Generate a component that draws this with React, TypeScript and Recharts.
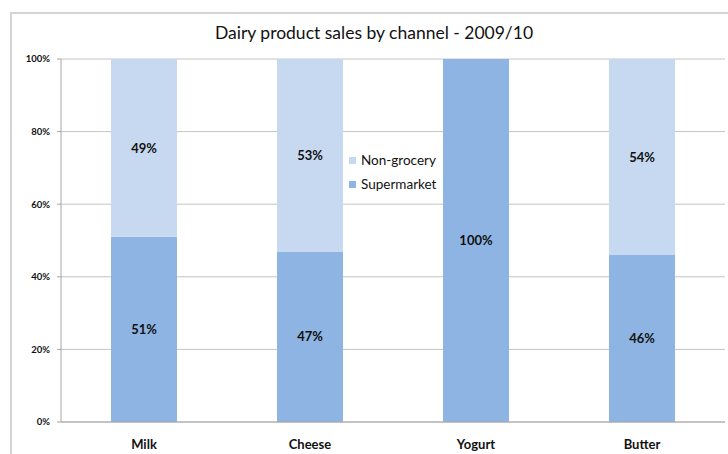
import React from "react";
import { BarChart, Bar, XAxis, YAxis, CartesianGrid, LabelList } from "recharts";

const categories = ["Milk", "Cheese", "Yogurt", "Butter"];
const supermarket = [51, 47, 100, 46];
const nonGrocery = [49, 53, 0, 54];
const yTicks = [0, 20, 40, 60, 80, 100];
const legendItems = ["Non-grocery", "Supermarket"];

const data = categories.map((c, i) => ({
  name: c,
  Supermarket: supermarket[i],
  "Non-grocery": nonGrocery[i],
}));

const FONT = "Lato, 'Liberation Sans', sans-serif";
const LIGHT = "#c6d9f1";
const DARK = "#8eb4e3";
const colorOf: Record<string, string> = { "Non-grocery": LIGHT, Supermarket: DARK };

const fmt = (v: any) => (Number(v) > 0 ? `${v}%` : "");
const labelStyle = { fontFamily: FONT, fontSize: 13, fontWeight: 700, fill: "#111" };

export default function App() {
  return (
    <div style={{ position: "absolute", left: 0, top: 0, width: 728, height: 454, overflow: "hidden", background: "#fff" }}>
      <div
        style={{
          position: "absolute",
          left: 10,
          top: 12,
          width: 740,
          height: 460,
          border: "2px solid #d4d4d4",
          boxSizing: "border-box",
        }}
      />
      <div
        style={{
          position: "absolute",
          left: 0,
          top: 22,
          width: 748,
          textAlign: "center",
          fontFamily: FONT,
          fontSize: 17.5,
          color: "#111",
        }}
      >
        Dairy product sales by channel - 2009/10
      </div>
      <div style={{ position: "absolute", left: 0, top: 0 }}>
        <BarChart
          width={728}
          height={454}
          data={data}
          margin={{ top: 59, right: 3, bottom: 0, left: 0 }}
        >
          <CartesianGrid vertical={false} stroke="#c4c4c4" />
          <XAxis
            dataKey="name"
            height={32}
            tickLine={false}
            tickSize={0}
            tickMargin={18}
            axisLine={{ stroke: "#a6a6a6" }}
            tick={{ fontFamily: FONT, fontSize: 13, fontWeight: 700, fill: "#111" }}
          />
          <YAxis
            width={61}
            domain={[0, 100]}
            ticks={yTicks}
            tickFormatter={(v: number) => `${v}%`}
            tickSize={4}
            tickMargin={7}
            axisLine={{ stroke: "#a6a6a6" }}
            tickLine={{ stroke: "#a6a6a6" }}
            tick={{ fontFamily: FONT, fontSize: 9.5, fontWeight: 700, fill: "#111" }}
          />
          <Bar dataKey="Supermarket" stackId="a" fill={DARK} barSize={66} isAnimationActive={false}>
            <LabelList dataKey="Supermarket" position="center" formatter={fmt} style={labelStyle} />
          </Bar>
          <Bar dataKey="Non-grocery" stackId="a" fill={LIGHT} barSize={66} isAnimationActive={false}>
            <LabelList dataKey="Non-grocery" position="center" formatter={fmt} style={labelStyle} />
          </Bar>
        </BarChart>
      </div>
      <div
        style={{
          position: "absolute",
          left: 344,
          top: 148,
          width: 98,
          height: 50,
          background: "#fff",
          fontFamily: FONT,
          fontSize: 13.5,
          color: "#111",
        }}
      >
        {legendItems.map((n) => (
          <div key={n} style={{ display: "flex", alignItems: "center", height: 24, paddingLeft: 5 }}>
            <span style={{ display: "inline-block", width: 7, height: 7, background: colorOf[n], marginRight: 5 }} />
            <span style={{ whiteSpace: "nowrap" }}>{n}</span>
          </div>
        ))}
      </div>
    </div>
  );
}
